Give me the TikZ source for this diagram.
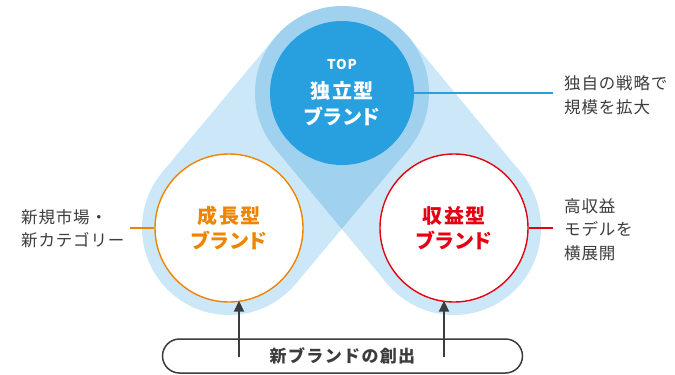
\documentclass[tikz,border=0pt]{standalone}
\usepackage{fontspec}
\setmainfont{Noto Sans CJK JP}
\usetikzlibrary{calc,arrows.meta}
\definecolor{palesky}{RGB}{204,232,248}
\definecolor{midsky}{RGB}{160,210,240}
\definecolor{deepsky}{RGB}{40,160,224}
\definecolor{groworange}{RGB}{239,132,0}
\definecolor{earnred}{RGB}{229,0,18}
\definecolor{ink}{RGB}{60,60,60}
\newcommand\kana[1]{{\addfontfeature{RawFeature=+palt}#1}}

\begin{document}
\begin{tikzpicture}[x=1pt,y=1pt,
  brand/.style={circle, minimum size=148pt, inner sep=0pt, fill=white, line width=1.4pt,
    align=center, font=\fontsize{20}{25}\selectfont\bfseries\addfontfeature{LetterSpace=6}},
  note/.style={anchor=west, inner sep=0pt, align=left, text=ink,
    font=\fontsize{16.5}{23.5}\selectfont\addfontfeature{LetterSpace=5}},
  link/.style={line width=1.2pt},
  up/.style={draw=ink, line width=2pt, -{Triangle[width=10pt,length=11pt]}, shorten >=-2pt}]
  \useasboundingbox (0,0) rectangle (675,-375);

  \coordinate (t) at (342,-93);
  \coordinate (l) at (229,-228);
  \coordinate (r) at (454,-228);

  % pale halo round each pair
  \foreach \s in {l,r} {
    \fill[palesky] ($(t)!87pt!90:(\s)$) -- ($(\s)!87pt!-90:(t)$)
      -- ($(\s)!87pt!90:(t)$) -- ($(t)!87pt!-90:(\s)$) -- cycle;
    \fill[palesky] (\s) circle (87);
  }

  % overlap of the two halos
  \coordinate (li) at ($(t)!87pt!90:(l)$);
  \coordinate (lb) at ($(l)!87pt!-90:(t)$);
  \coordinate (ri) at ($(t)!87pt!-90:(r)$);
  \coordinate (rb) at ($(r)!87pt!90:(t)$);
  \fill[midsky] (li) -- (intersection of li--lb and ri--rb) -- (ri) -- cycle;
  \fill[midsky] (t) circle (87);

  \node[circle, fill=deepsky, minimum size=144pt, inner sep=0pt, text=white, align=center,
    font=\fontsize{20}{26}\selectfont\bfseries\addfontfeature{LetterSpace=6}] (top) at (t)
    {{\fontsize{13.5}{15}\selectfont TOP}\\[3pt]独立型\\\kana{ブランド}};
  \node[brand, draw=groworange, text=groworange] (grow) at (l) {成長型\\\kana{ブランド}};
  \node[brand, draw=earnred, text=earnred] (earn) at (r) {収益型\\\kana{ブランド}};

  \node[note] (growtxt) at (21,-228.5) {新規市場・\\新カテゴリー};
  \node[note] (toptxt) at (564,-95) {独自の戦略で\\規模を拡大};
  \node[note] (earntxt) at (564,-229.5) {高収益\\モデルを\\横展開};

  \coordinate (gl) at (130,-228);
  \coordinate (tl) at (553,-93);
  \coordinate (el) at (553,-228);
  \draw[link, groworange] (grow) -- (gl);
  \draw[link, deepsky] (top) -- (tl);
  \draw[link, earnred] (earn) -- (el);

  \node[draw=ink, line width=1.5pt, rounded corners=17pt, minimum width=360pt, minimum height=34pt,
    text=ink, font=\fontsize{17}{20}\selectfont\bfseries\addfontfeature{LetterSpace=8}] (base)
    at (342.5,-356) {新ブランドの創出};

  \coordinate (ga) at (239,-357);
  \coordinate (ea) at (444,-357);
  \draw[up] (ga) -- (ga |- grow.south);
  \draw[up] (ea) -- (ea |- earn.south);
\end{tikzpicture}
\end{document}
